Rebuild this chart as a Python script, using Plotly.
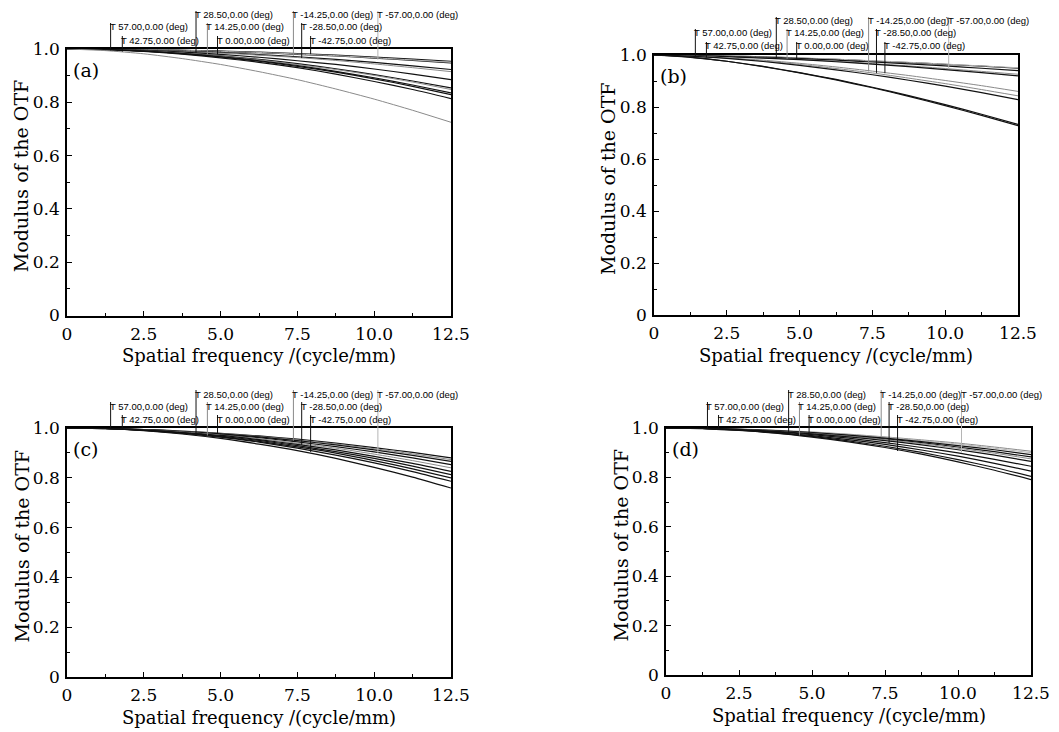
import plotly.graph_objects as go

W, H = 1059, 732
OFF = 8  # page body margin that shifts the figure inside the browser window

# ---------------- data ----------------
freq = [0, 1.25, 2.5, 3.75, 5.0, 6.25, 7.5, 8.75, 10.0, 11.25, 12.5]

x_tick_vals = [0, 2.5, 5.0, 7.5, 10.0, 12.5]
x_tick_text = ["0", "2.5", "5.0", "7.5", "10.0", "12.5"]
y_tick_vals = [0, 0.2, 0.4, 0.6, 0.8, 1.0]
y_tick_text = ["0", "0.2", "0.4", "0.6", "0.8", "1.0"]

field_labels = ["T 57.00,0.00 (deg)", "T 42.75,0.00 (deg)", "T 28.50,0.00 (deg)",
                "T 14.25,0.00 (deg)", "T 0.00,0.00 (deg)", "T -14.25,0.00 (deg)",
                "T -28.50,0.00 (deg)", "T -42.75,0.00 (deg)", "T -57.00,0.00 (deg)"]
label_freq = [1.42, 1.80, 4.20, 4.57, 4.90, 7.37, 7.64, 7.93, 10.12]

# panel (a)
a_curves = [
    [1, .999, .998, .995, .992, .988, .983, .977, .970, .962, .954],
    [1, .999, .998, .995, .991, .986, .980, .974, .966, .957, .948],
    [1, .999, .998, .995, .991, .987, .981, .975, .967, .959, .950],
    [1, .999, .996, .992, .987, .979, .971, .961, .950, .937, .923],
    [1, .999, .996, .991, .985, .977, .968, .957, .944, .930, .915],
    [1, .999, .995, .988, .980, .969, .956, .942, .925, .906, .885],
    [1, .998, .993, .985, .974, .961, .945, .926, .904, .880, .854],
    [1, .998, .993, .985, .973, .959, .942, .923, .901, .876, .848],
    [1, .998, .992, .983, .971, .956, .938, .916, .892, .865, .835],
    [1, .998, .992, .983, .970, .954, .935, .913, .888, .860, .829],
    [1, .998, .991, .981, .967, .950, .930, .906, .878, .848, .814],
    [1, .994, .982, .964, .942, .915, .885, .850, .812, .770, .725],
]
a_leader_end = [0.995, 0.99, 0.985, 0.98, 0.98, 0.975, 0.966, 0.981, 0.96]

# panel (b)
b_curves = [
    [1, .999, .996, .993, .988, .983, .977, .971, .964, .957, .949],
    [1, .999, .997, .993, .989, .984, .978, .972, .965, .958, .951],
    [1, .998, .995, .991, .986, .980, .973, .966, .958, .949, .940],
    [1, .998, .994, .989, .983, .976, .967, .958, .948, .937, .926],
    [1, .998, .994, .988, .982, .974, .965, .955, .944, .932, .920],
    [1, .996, .989, .980, .968, .954, .938, .921, .902, .882, .860],
    [1, .996, .988, .977, .964, .948, .931, .911, .890, .867, .843],
    [1, .996, .987, .975, .960, .943, .924, .903, .880, .855, .828],
    [1, .992, .976, .956, .932, .906, .876, .844, .809, .772, .733],
    [1, .991, .976, .955, .931, .904, .874, .841, .805, .768, .728],
]
b_leader_end = [0.995, 0.99, 0.988, 0.985, 0.982, 0.937, 0.931, 0.93, 0.95]

# panel (c)
c_curves = [
    [1, .998, .994, .988, .979, .968, .955, .939, .921, .902, .880],
    [1, .998, .994, .987, .978, .966, .952, .936, .917, .896, .873],
    [1, .998, .994, .986, .977, .964, .949, .932, .912, .890, .866],
    [1, .998, .993, .985, .974, .961, .944, .925, .904, .880, .853],
    [1, .998, .992, .984, .972, .957, .939, .919, .895, .869, .840],
    [1, .998, .992, .982, .970, .953, .934, .912, .886, .858, .826],
    [1, .998, .991, .981, .967, .950, .929, .905, .878, .847, .813],
    [1, .998, .991, .980, .965, .946, .924, .899, .869, .836, .800],
    [1, .997, .990, .978, .963, .943, .919, .891, .860, .825, .786],
    [1, .997, .989, .976, .958, .935, .909, .878, .842, .803, .759],
]
c_leader_end = [0.997, 0.993, 0.968, 0.97, 0.98, 0.949, 0.932, 0.904, 0.9]

# panel (d)
d_curves = [
    [1, .999, .996, .991, .984, .975, .964, .952, .939, .923, .906],
    [1, .999, .995, .990, .983, .973, .962, .949, .935, .918, .900],
    [1, .999, .995, .989, .981, .971, .959, .945, .929, .912, .892],
    [1, .999, .995, .988, .980, .969, .956, .941, .923, .904, .883],
    [1, .998, .994, .987, .978, .967, .953, .937, .918, .898, .875],
    [1, .998, .994, .986, .976, .964, .949, .932, .912, .890, .865],
    [1, .998, .993, .984, .973, .959, .941, .921, .899, .873, .845],
    [1, .998, .992, .982, .969, .953, .934, .911, .886, .857, .825],
    [1, .998, .991, .980, .966, .948, .926, .901, .872, .840, .804],
    [1, .997, .990, .979, .963, .944, .921, .894, .863, .829, .791],
]
d_leader_end = [0.996, 0.993, 0.972, 0.97, 0.98, 0.964, 0.939, 0.907, 0.9]

panel_names = ["(a)", "(b)", "(c)", "(d)"]

# ---------------- styles / layout ----------------
BLACK = "#111111"
GRAY = "#8a8a8a"
LGRAY = "#b5b5b5"
a_colors = [BLACK, BLACK, LGRAY, BLACK, GRAY, BLACK, BLACK, GRAY, BLACK, BLACK, BLACK, GRAY]
b_colors = [BLACK, LGRAY, BLACK, GRAY, BLACK, GRAY, GRAY, BLACK, BLACK, BLACK]
c_colors = [BLACK, GRAY, BLACK, BLACK, GRAY, BLACK, BLACK, BLACK, BLACK, BLACK]
d_colors = [GRAY, LGRAY, BLACK, BLACK, GRAY, BLACK, BLACK, BLACK, BLACK, BLACK]
leader_colors = [BLACK, BLACK, BLACK, GRAY, BLACK, GRAY, BLACK, BLACK, LGRAY]
label_rows = [2, 3, 1, 2, 3, 1, 2, 3, 1]
row_offset = {1: 34, 2: 22, 3: 9}

# plot-area boxes in window pixels: (left, right, top, bottom)
boxes = [(67, 451, 49, 315.5), (654, 1018, 55, 315), (67, 451, 428, 677), (666, 1031, 428, 675)]

panels = [(a_curves, a_colors, a_leader_end), (b_curves, b_colors, b_leader_end),
          (c_curves, c_colors, c_leader_end), (d_curves, d_colors, d_leader_end)]

SERIF = "DejaVu Serif"
SANS = "Liberation Sans"


def px(xp):
    return (xp - OFF) / W


def py(yp):
    return 1 - (yp - OFF) / H


fig = go.Figure()
layout = dict(width=W, height=H, margin=dict(l=0, r=0, t=0, b=0, pad=0, autoexpand=False),
              paper_bgcolor="white", plot_bgcolor="white", showlegend=False,
              font=dict(family=SERIF, size=17, color="black"))
annotations = []
shapes = []

for i, ((curves, colors, lead_end), box) in enumerate(zip(panels, boxes)):
    n = "" if i == 0 else str(i + 1)
    l, r, t, b = box
    xa, ya = "x" + n, "y" + n
    for vals, col in zip(curves, colors):
        fig.add_trace(go.Scatter(x=freq, y=vals, mode="lines", xaxis=xa, yaxis=ya,
                                 line=dict(color=col, width=1.2 if col == BLACK else 1.0,
                                           shape="spline", smoothing=0.6),
                                 hoverinfo="skip"))
    layout["xaxis" + n] = dict(domain=[px(l), px(r)], anchor=ya, range=[0, 12.5], automargin=False,
                               tickmode="array", tickvals=x_tick_vals, ticktext=x_tick_text,
                               ticks="inside", ticklen=5, tickwidth=1.3, tickcolor="black",
                               minor=dict(tickmode="linear", tick0=0, dtick=1.25, ticks="inside",
                                          ticklen=3, tickwidth=1.2, tickcolor="black"),
                               showline=True, linewidth=1.6, linecolor="black", mirror=True,
                               showgrid=False, zeroline=False, ticklabelstandoff=2,
                               tickfont=dict(family=SERIF, size=17, color="black"))
    layout["yaxis" + n] = dict(domain=[py(b), py(t)], anchor=xa, range=[0, 1], automargin=False,
                               tickmode="array", tickvals=y_tick_vals, ticktext=y_tick_text,
                               ticks="inside", ticklen=5, tickwidth=1.3, tickcolor="black",
                               minor=dict(tickmode="linear", tick0=0, dtick=0.1, ticks="inside",
                                          ticklen=3, tickwidth=1.2, tickcolor="black"),
                               showline=True, linewidth=1.6, linecolor="black", mirror=True,
                               showgrid=False, zeroline=False, ticklabelstandoff=2,
                               tickfont=dict(family=SERIF, size=17, color="black"))
    # field labels and leader lines
    ph = b - t
    for lab, fx, row, ye, lc in zip(field_labels, label_freq, label_rows, lead_end, leader_colors):
        yc = t - row_offset[row]
        annotations.append(dict(x=fx, xref=xa, y=py(yc), yref="paper", text=lab,
                                showarrow=False, xanchor="left", yanchor="middle", xshift=-3,
                                font=dict(family=SANS, size=9.5, color="black")))
        shapes.append(dict(type="line", xref=xa, yref="paper", x0=fx, x1=fx,
                           y0=py(yc - 4), y1=py(t + (1 - ye) * ph),
                           line=dict(color=lc, width=1)))
    # panel label
    annotations.append(dict(x=px(l + 4), y=py(t + 21), xref="paper", yref="paper",
                            text=panel_names[i], showarrow=False, xanchor="left",
                            yanchor="middle", font=dict(family=SERIF, size=19, color="black")))
    # axis titles
    annotations.append(dict(x=px((l + r) / 2), y=py(b + 40), xref="paper", yref="paper",
                            text="Spatial frequency /(cycle/mm)", showarrow=False,
                            xanchor="center", yanchor="middle",
                            font=dict(family=SERIF, size=18, color="black")))
    annotations.append(dict(x=px(l - 46), y=py((t + b) / 2 - 6), xref="paper", yref="paper",
                            text="Modulus of the OTF", showarrow=False, textangle=-90,
                            xanchor="center", yanchor="middle",
                            font=dict(family=SERIF, size=19, color="black")))

layout["annotations"] = annotations
layout["shapes"] = shapes
fig.update_layout(**layout)
fig.write_html("out.html")
